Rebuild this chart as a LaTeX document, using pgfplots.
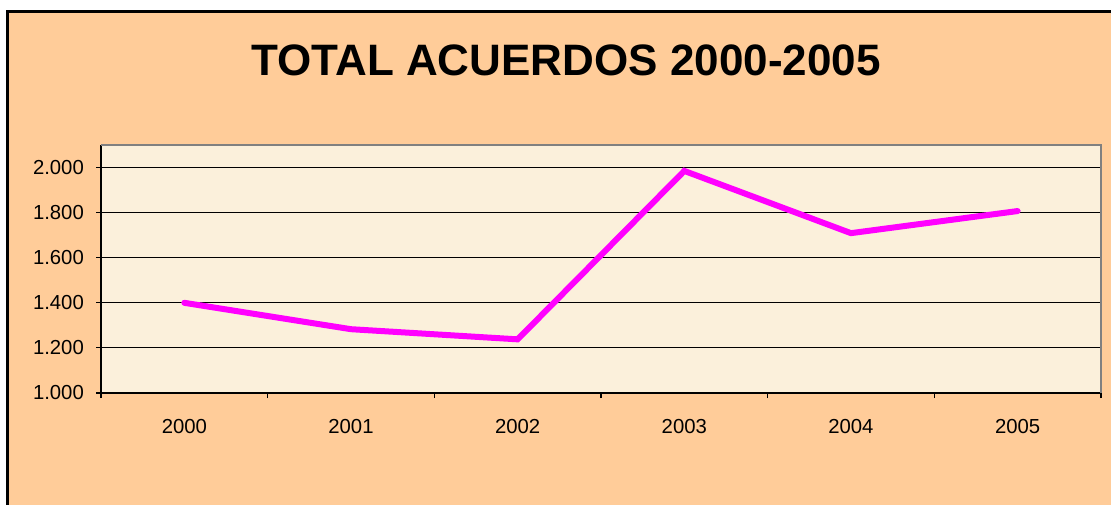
\documentclass[border=0pt]{standalone}
\usepackage{pgfplots}
\pgfplotsset{compat=1.18}
\usepackage{fontspec}
\setmainfont{Liberation Sans}
\definecolor{frameorange}{RGB}{255,204,153}
\definecolor{plotbg}{RGB}{251,240,219}
\definecolor{linemag}{RGB}{255,0,255}
\begin{document}
\begin{tikzpicture}
\useasboundingbox (0pt,0pt) rectangle (1111pt,-505pt);
\clip (0pt,0pt) rectangle (1111pt,-505pt);
\fill[white] (0pt,0pt) rectangle (1111pt,-505pt);
\filldraw[fill=frameorange, draw=black, line width=3pt] (7.5pt,-11.5pt) rectangle (1130pt,-530pt);
\node[font=\fontsize{44}{50}\selectfont\bfseries, inner sep=0pt] at (566pt,-60pt) {TOTAL ACUERDOS 2000-2005};
\begin{axis}[
  at={(101pt,-145pt)}, anchor=north west,
  scale only axis, width=1000pt, height=248pt,
  xmin=-0.5, xmax=5.5, ymin=1000, ymax=2100,
  axis background/.style={fill=plotbg},
  axis x line*=bottom, axis y line*=left,
  axis line style={black, line width=1.3pt, -},
  tick align=outside,
  major tick length=5pt,
  tick style={black, line width=1.1pt},
  ytick={1000,1200,1400,1600,1800,2000},
  ymajorgrids,
  major grid style={black, line width=0.9pt},
  xtick={-0.5,0.5,1.5,2.5,3.5,4.5,5.5},
  xticklabels={2000,2001,2002,2003,2004,2005,{}},
  xticklabel style={xshift=83.33pt, anchor=north, inner sep=0pt, yshift=-21pt},
  yticklabel style={anchor=east, inner sep=0pt, xshift=-12pt},
  ticklabel style={font=\fontsize{20.3}{24}\selectfont},
  /pgf/number format/assume math mode=true,
  /pgf/number format/.cd, fixed, 1000 sep={.},
  /pgfplots/.cd,
  clip=false,
]
\addplot[linemag, line width=6pt, line cap=round] coordinates {(0,1400)(1,1283)(2,1238)(3,1985)(4,1709)(5,1807)};
\draw[gray, line width=1.8pt] (rel axis cs:0,1) -- (rel axis cs:1,1) -- (rel axis cs:1,0);
\end{axis}
\end{tikzpicture}
\end{document}
